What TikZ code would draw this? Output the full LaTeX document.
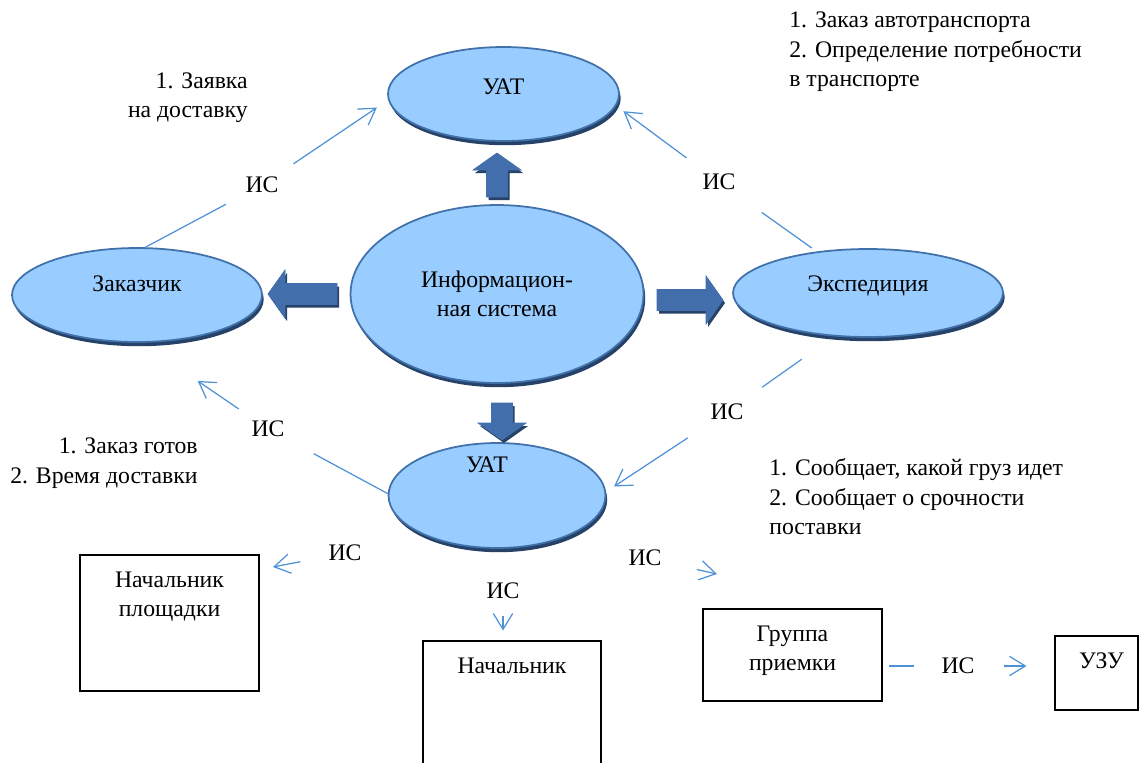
\documentclass[tikz,border=0pt]{standalone}
\usepackage{fontspec}
\setmainfont{Liberation Serif}
\usetikzlibrary{arrows.meta,shapes.geometric,shadows}

\definecolor{ovalfill}{RGB}{153,204,255}
\definecolor{ovalline}{RGB}{65,113,170}
\definecolor{ovalshadow}{RGB}{38,66,104}
\definecolor{isblue}{RGB}{79,145,215}
\definecolor{arrowlight}{RGB}{168,198,236}
\definecolor{arrowdark}{RGB}{66,110,172}

% block arrow: base x, base y, angle, length
\newcommand{\blockarrow}[4]{%
	\fill[ovalshadow, shift={(#1+2,#2+3)}, rotate=#3] (0,-10.5) -- (#4-17,-10.5) -- (#4-17,-24) -- (#4,0) -- (#4-17,24) -- (#4-17,10.5) -- (0,10.5) -- cycle;
	\shade[top color=arrowdark, middle color=arrowlight, bottom color=arrowdark, draw=arrowdark, line width=0.4pt, shift={(#1,#2)}, rotate=#3] (0,-10.5) -- (#4-17,-10.5) -- (#4-17,-24) -- (#4,0) -- (#4-17,24) -- (#4-17,10.5) -- (0,10.5) -- cycle;
}

\tikzset{
	oval/.style={ellipse, draw=ovalline, fill=ovalfill, line width=1pt, inner sep=0pt, align=center,
		drop shadow={shadow xshift=1pt, shadow yshift=-2.4pt, fill=ovalshadow, opacity=1}},
	box/.style={draw, line width=0.6pt, inner sep=0pt},
	boxtext/.style={anchor=north, yshift=-0.34cm, inner sep=0pt, align=center},
	txt/.style={inner sep=0pt},
	islabel/.style={inner sep=0pt},
	isline/.style={draw=isblue, line width=0.7pt},
	isarrow/.style={isline, -{Straight Barb[length=9pt, width=11pt]}},
}

\begin{document}
\begin{tikzpicture}[x=0.02cm, y=-0.02cm, every node/.style={font=\rmfamily\fontsize{13.5}{16.8}\selectfont}]
	\useasboundingbox (0,0) rectangle (1140,762);

	% ovals
	\node[oval, minimum width=4.62cm, minimum height=1.88cm, label={[yshift=0.14cm]center:УАТ}] (uat1) at (503.5,94) {};
	\node[oval, minimum width=5.86cm, minimum height=3.56cm] (info) at (497,294) {Информацион-\\ная система};
	\node[oval, minimum width=5cm, minimum height=1.88cm, label={[yshift=0.22cm]center:Заказчик}] (zak) at (137,295) {};
	\node[oval, minimum width=5.4cm, minimum height=1.76cm, label={[yshift=0.14cm]center:Экспедиция}] (exp) at (868,293) {};
	\node[oval, minimum width=4.34cm, minimum height=2.1cm, label={[yshift=0.62cm, xshift=-0.2cm]center:УАТ}] (uat2) at (497,495.5) {};

	% block arrows out of the information system
	\blockarrow{497}{197}{90}{44}
	\blockarrow{337}{294}{180}{69}
	\blockarrow{657}{300}{0}{66}
	\blockarrow{502}{403}{-90}{37}

	% boxes
	\node[box, minimum width=3.58cm, minimum height=2.72cm, label={[boxtext]north:Начальник\\площадки}] (nachpl) at (169.5,623) {};
	\node[box, minimum width=3.56cm, minimum height=2.68cm, label={[boxtext]north:Начальник}] (nach) at (512,708) {};
	\node[box, minimum width=3.58cm, minimum height=1.84cm, label={[boxtext]north:Группа\\приемки}] (grp) at (792.5,655) {};
	\node[box, minimum width=1.66cm, minimum height=1.48cm, label={[boxtext, xshift=0.1cm]north:УЗУ}] (uzu) at (1096.5,673) {};

	% texts
	\node[txt, anchor=east, align=right] (t1) at (248,97.5) {1. Заявка\\на доставку};
	\node[txt, anchor=west, align=left] (t2) at (789,52) {1. Заказ автотранспорта\\2. Определение потребности\\в транспорте};
	\node[txt, anchor=east, align=right] (t3) at (198,463) {1. Заказ готов\\2. Время доставки};
	\node[txt, anchor=west, align=left] (t4) at (769,497) {1. Сообщает, какой груз идет\\2. Сообщает о срочности\\поставки};

	% IS labels
	\node[islabel] (is1) at (262,185) {ИС};
	\node[islabel] (is2) at (719,182) {ИС};
	\node[islabel] (is3) at (727,412) {ИС};
	\node[islabel] (is4) at (268,429) {ИС};
	\node[islabel] (is5) at (345,553) {ИС};
	\node[islabel] (is6) at (503,591) {ИС};
	\node[islabel] (is7) at (645,558) {ИС};
	\node[islabel] (is8) at (958,666) {ИС};
	\coordinate (c5) at (273,567);
	\coordinate (c7) at (717,574);

	% connectors
	\draw[isline, shorten >=0.82cm] (zak.80) -- (is1.center);
	\draw[isarrow, shorten <=0.76cm, shorten >=0.27cm] (is1.center) -- (uat1.183);
	\draw[isline, shorten <=0.12cm, shorten >=1.05cm] (exp.141) -- (is2.center);
	\draw[isarrow, shorten <=0.81cm, shorten >=0.18cm] (is2.center) -- (uat1.-6);
	\draw[isline, shorten <=0.79cm, shorten >=0.86cm] (exp.232) -- (is3.center);
	\draw[isarrow, shorten <=0.94cm, shorten >=0.19cm] (is3.center) -- (uat2.2);
	\draw[isline, shorten >=1.04cm] (uat2.179) -- (is4.center);
	\draw[isarrow, shorten <=0.71cm, shorten >=1.35cm] (is4.center) -- (zak.276);
	\draw[isarrow, shorten <=0.91cm] (is5.center) -- (c5);
	\draw[isarrow, shorten <=0.5cm, shorten >=0.2cm] (is6.center) -- (is6 |- nach.north);
	\draw[isarrow, shorten <=1.06cm] (is7.center) -- (c7);
	\draw[isline, shorten <=0.12cm, shorten >=0.88cm] (grp.east |- is8) -- (is8.center);
	\draw[isarrow, shorten <=0.92cm, shorten >=0.56cm] (is8.center) -- (uzu.west |- is8);
\end{tikzpicture}
\end{document}
